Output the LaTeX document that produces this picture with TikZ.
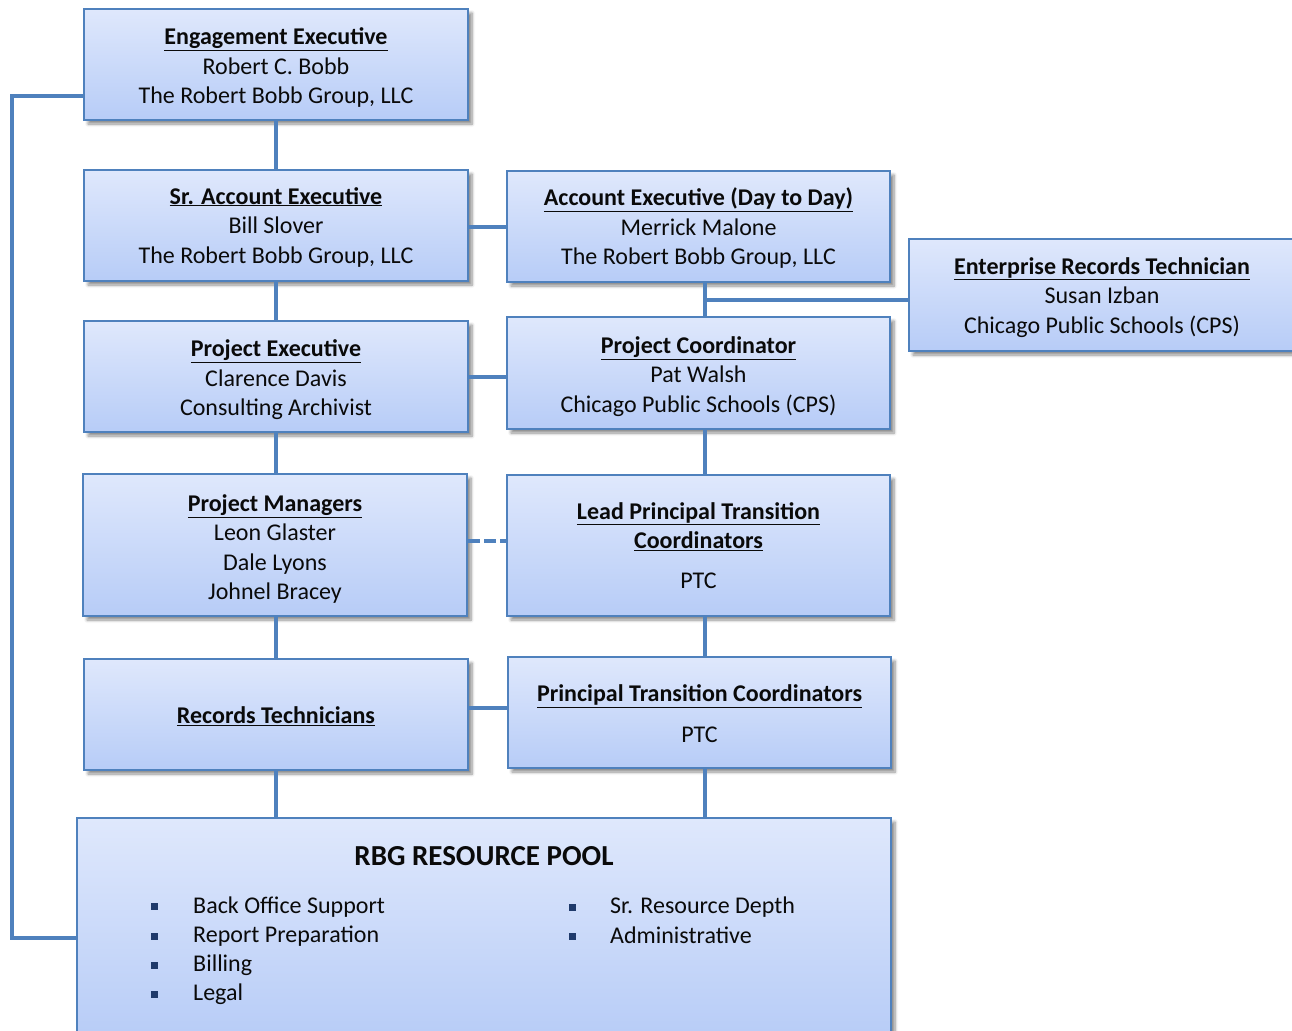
\documentclass[tikz,border=0pt]{standalone}
\usepackage{fontspec}
\setmainfont{Carlito}
\usetikzlibrary{shadows.blur,calc}
\definecolor{bord}{HTML}{4F81BD}
\definecolor{topc}{HTML}{DFE8FC}
\definecolor{botc}{HTML}{B7CCF7}
\definecolor{txt}{HTML}{0A0A0A}
\definecolor{navy}{HTML}{1F3A6B}
\newcommand{\ttl}[2][0pt]{\rule{0pt}{#1}\underline{\textbf{#2}}}
\tikzset{
  box/.style={draw=bord, line width=2.2pt, top color=topc, bottom color=botc,
    align=center, inner sep=0pt, text=txt,
    font=\fontsize{24}{29.5}\selectfont,
    blur shadow={shadow xshift=4pt, shadow yshift=-4pt, shadow blur steps=6, shadow blur radius=3pt, shadow opacity=45}},
  conn/.style={draw=bord, line width=4pt},
  bul/.style={fill=navy, minimum size=7pt, inner sep=0pt},
  item/.style={anchor=west, inner sep=0pt, text=txt, font=\fontsize{24}{29}\selectfont},
}
\begin{document}
\begin{tikzpicture}[x=1pt,y=1pt]
\useasboundingbox (0,0) rectangle (1292,-1030);
\coordinate (vx) at (705,0);
\coordinate (hx) at (276,0);
% boxes
\node[box, minimum width=384, minimum height=111] (e1) at (276,-64.5)
  {\ttl[23pt]{Engagement Executive}\\ Robert C. Bobb\\ The Robert Bobb Group, LLC};
\node[box, minimum width=384, minimum height=111] (e2) at (276,-225.5)
  {\ttl[20pt]{Sr. Account Executive}\\ Bill Slover\\ The Robert Bobb Group, LLC};
\node[box, minimum width=383, minimum height=111] (e3) at (698.5,-226.5)
  {\ttl[21pt]{Account Executive (Day to Day)}\\ Merrick Malone\\ The Robert Bobb Group, LLC};
\node[box, minimum width=386, minimum height=112] (e4) at (1102,-295)
  {\ttl[22pt]{Enterprise Records Technician}\\ Susan Izban\\ Chicago Public Schools (CPS)};
\node[box, minimum width=384, minimum height=111] (e5) at (276,-376.5)
  {\ttl[24pt]{Project Executive}\\ Clarence Davis\\ Consulting Archivist};
\node[box, minimum width=383, minimum height=112] (e6) at (698.5,-373)
  {\ttl[24pt]{Project Coordinator}\\ Pat Walsh\\ Chicago Public Schools (CPS)};
\node[box, minimum width=384, minimum height=142] (e7) at (275,-545)
  {\ttl[25pt]{Project Managers}\\ Leon Glaster\\ Dale Lyons\\ Johnel Bracey};
\node[box, minimum width=383, minimum height=141] (e8) at (698.5,-545.5)
  {\ttl{Lead Principal Transition}\\ \ttl{Coordinators}\\[10pt] PTC};
\node[box, minimum width=384, minimum height=111] (e9) at (276,-714.5)
  {\ttl[21pt]{Records Technicians}};
\node[box, minimum width=383, minimum height=111] (e10) at (699.5,-712.5)
  {\ttl[19pt]{Principal Transition Coordinators}\\[11pt] PTC};
\node[box, minimum width=814, minimum height=222] (pool) at (484,-929) {};
% pool contents
\node[font=\fontsize{29}{32}\selectfont\bfseries, text=txt, inner sep=0pt] (pt) at (484,-856) {RBG RESOURCE POOL};
\node[bul] (b1) at (154,-906) {};
\node[bul] (b2) at (154,-936) {};
\node[bul] (b3) at (154,-965) {};
\node[bul] (b4) at (154,-994) {};
\node[bul] (b5) at (572,-907) {};
\node[bul] (b6) at (572,-936) {};
\node[item] (i1) at (193,-907) {Back Office Support};
\node[item] (i2) at (193,-936) {Report Preparation};
\node[item] (i3) at (193,-965) {Billing};
\node[item] (i4) at (193,-994) {Legal};
\node[item] (i5) at (610,-907) {Sr. Resource Depth};
\node[item] (i6) at (610,-935.5) {Administrative};
% connectors
\draw[conn] (e1.south -| hx) -- (e2.north -| hx);
\draw[conn] (e2.south -| hx) -- (e5.north -| hx);
\draw[conn] (e5.south -| hx) -- (e7.north -| hx);
\draw[conn] (e7.south -| hx) -- (e9.north -| hx);
\draw[conn] (e9.south -| hx) -- (pool.north -| hx);
\draw[conn] (e3.south -| vx) -- (e6.north -| vx);
\coordinate (br) at (705,-300);
\draw[conn] (br) -- (br -| e4.west);
\draw[conn] (e6.south -| vx) -- (e8.north -| vx);
\draw[conn] (e8.south -| vx) -- (e10.north -| vx);
\draw[conn] (e10.south -| vx) -- (pool.north -| vx);
\coordinate (h1) at (0,-227);
\draw[conn] (h1 -| e2.east) -- (h1 -| e3.west);
\coordinate (h2) at (0,-377);
\draw[conn] (h2 -| e5.east) -- (h2 -| e6.west);
\coordinate (h3) at (0,-541);
\draw[conn, dash pattern=on 12pt off 4pt] (h3 -| e7.east) -- (h3 -| e8.west);
\coordinate (h4) at (0,-708);
\draw[conn] (h4 -| e9.east) -- (h4 -| e10.west);
\coordinate (bt) at (12,-96);
\coordinate (bb) at (12,-938);
\draw[conn] (bt -| e1.west) -- (bt) -- (bb) -- (bb -| pool.west);
\end{tikzpicture}
\end{document}
